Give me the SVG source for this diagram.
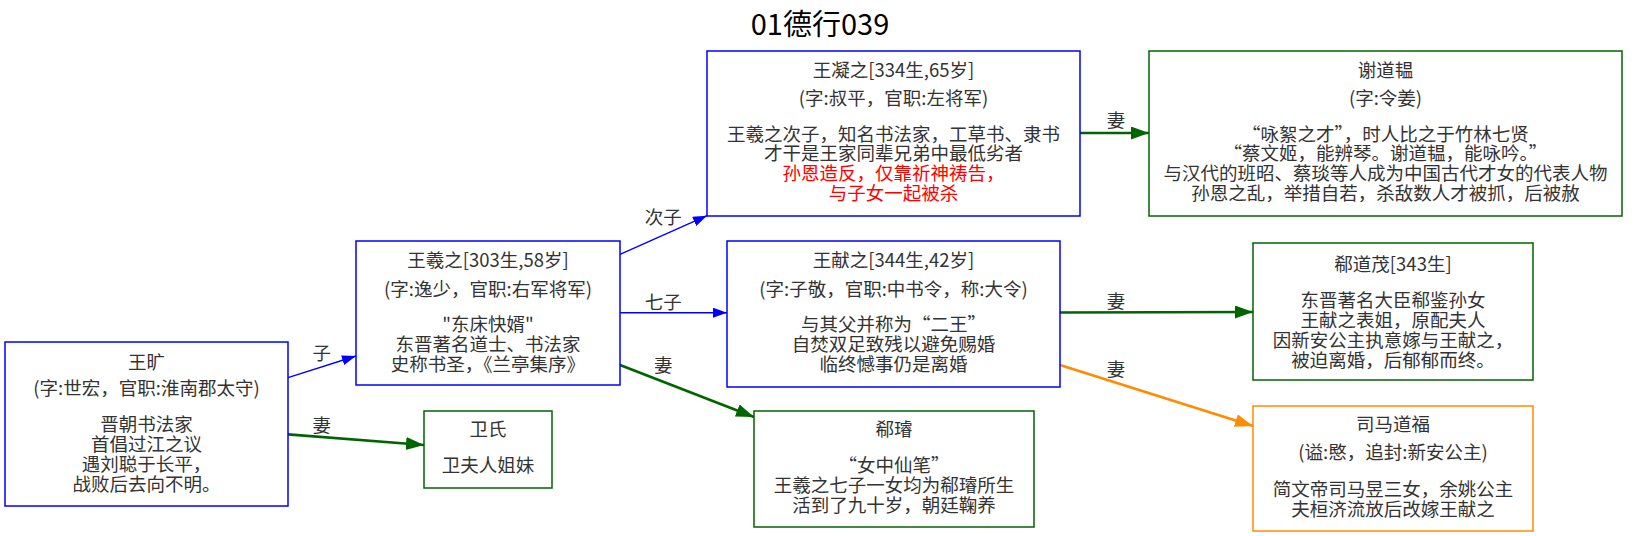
<svg xmlns="http://www.w3.org/2000/svg" width="1643" height="536" viewBox="0 0 1643 536">
<style>
  .t { font-family: "Noto Sans CJK SC", "Noto Sans", sans-serif; font-size: 18.5px; fill: #333; text-anchor: middle; }
  .red { fill: #ff0000; }
  .title { font-family: "Noto Sans CJK SC", "Noto Sans", sans-serif; font-size: 29px; fill: #000; text-anchor: middle; }
  .nb { fill: #fff; stroke: #0000ff; stroke-width: 1.5; }
  .ng { fill: #fff; stroke: #006400; stroke-width: 1.5; }
  .no { fill: #fff; stroke: #ff8c00; stroke-width: 1.5; }
  .eb { fill: none; stroke: #0000ff; stroke-width: 1.4; }
  .eg { fill: none; stroke: #006400; stroke-width: 2.7; }
  .eo { fill: none; stroke: #ff8c00; stroke-width: 2.7; }
  .lb { font-family: "Noto Sans CJK SC", "Noto Sans", sans-serif; font-size: 18.5px; fill: #333; text-anchor: middle; }
</style>
<defs>
  <marker id="ab" markerUnits="userSpaceOnUse" markerWidth="15" markerHeight="11" refX="14" refY="5" orient="auto">
    <path d="M0,0 L14,5 L0,10 z" fill="#0000ff"/>
  </marker>
  <marker id="ag" markerUnits="userSpaceOnUse" markerWidth="19" markerHeight="14" refX="18" refY="6.5" orient="auto">
    <path d="M0,0 L18,6.5 L0,13 z" fill="#006400"/>
  </marker>
  <marker id="ao" markerUnits="userSpaceOnUse" markerWidth="19" markerHeight="14" refX="18" refY="6.5" orient="auto">
    <path d="M0,0 L18,6.5 L0,13 z" fill="#ff8c00"/>
  </marker>
</defs>
<rect width="1643" height="536" fill="#fff"/>
<text class="title" x="820" y="35">01德行039</text>

<g id="edges">
  <path class="eb" d="M288,377.7 L356,356" marker-end="url(#ab)"/>
  <text class="lb" x="321.7" y="359.8">子</text>
  <path class="eg" d="M288,434.3 L424,445" marker-end="url(#ag)"/>
  <text class="lb" x="321.7" y="431.5">妻</text>
  <path class="eb" d="M620,254.3 L707,215.7" marker-end="url(#ab)"/>
  <text class="lb" x="663.3" y="224.2">次子</text>
  <path class="eb" d="M620,312.7 L727,312.7" marker-end="url(#ab)"/>
  <text class="lb" x="663.3" y="309.2">七子</text>
  <path class="eg" d="M620,365 L754,417" marker-end="url(#ag)"/>
  <text class="lb" x="663.3" y="371.5">妻</text>
  <path class="eg" d="M1080,133 L1149,133" marker-end="url(#ag)"/>
  <text class="lb" x="1116" y="127">妻</text>
  <path class="eg" d="M1060,312.5 L1253,312" marker-end="url(#ag)"/>
  <text class="lb" x="1116" y="307.5">妻</text>
  <path class="eo" d="M1060,365 L1253,426" marker-end="url(#ao)"/>
  <text class="lb" x="1116" y="375.5">妻</text>
</g>

<g id="n_wangkuang">
  <rect class="nb" x="5" y="342" width="283" height="164"/>
  <text class="t" x="146.5" y="368.7">王旷</text>
  <text class="t" x="146.5" y="394.8">(字:世宏，官职:淮南郡太守)</text>
  <text class="t" x="146.5" y="431">晋朝书法家</text>
  <text class="t" x="146.5" y="450.7">首倡过江之议</text>
  <text class="t" x="146.5" y="470.7">遇刘聪于长平，</text>
  <text class="t" x="146.5" y="490.7">战败后去向不明。</text>
</g>

<g id="n_wangxizhi">
  <rect class="nb" x="356" y="241" width="264" height="144"/>
  <text class="t" x="488" y="267.3">王羲之[303生,58岁]</text>
  <text class="t" x="488" y="295.7">(字:逸少，官职:右军将军)</text>
  <text class="t" x="488" y="331">"东床快婿"</text>
  <text class="t" x="488" y="350.7">东晋著名道士、书法家</text>
  <text class="t" x="488" y="370.7">史称书圣，《兰亭集序》</text>
</g>

<g id="n_wangningzhi">
  <rect class="nb" x="707" y="51" width="373" height="165"/>
  <text class="t" x="893.5" y="77.3">王凝之[334生,65岁]</text>
  <text class="t" x="893.5" y="105">(字:叔平，官职:左将军)</text>
  <text class="t" x="893.5" y="140.7">王羲之次子，知名书法家，工草书、隶书</text>
  <text class="t" x="893.5" y="160.3">才干是王家同辈兄弟中最低劣者</text>
  <text class="t red" x="893.5" y="180">孙恩造反，仅靠祈神祷告，</text>
  <text class="t red" x="893.5" y="199.7">与子女一起被杀</text>
</g>

<g id="n_xiedaoyun">
  <rect class="ng" x="1149" y="51" width="473" height="165"/>
  <text class="t" x="1385.5" y="77.3">谢道韫</text>
  <text class="t" x="1385.5" y="105">(字:令姜)</text>
  <text class="t" x="1385.5" y="140.7">“咏絮之才”，时人比之于竹林七贤</text>
  <text class="t" x="1385.5" y="160.3">“蔡文姬，能辨琴。谢道韫，能咏吟。”</text>
  <text class="t" x="1385.5" y="180">与汉代的班昭、蔡琰等人成为中国古代才女的代表人物</text>
  <text class="t" x="1385.5" y="199.7">孙恩之乱，举措自若，杀敌数人才被抓，后被赦</text>
</g>

<g id="n_wangxianzhi">
  <rect class="nb" x="727" y="241" width="333" height="146"/>
  <text class="t" x="893.5" y="267.3">王献之[344生,42岁]</text>
  <text class="t" x="893.5" y="295.7">(字:子敬，官职:中书令，称:大令)</text>
  <text class="t" x="893.5" y="330.7">与其父并称为“二王”</text>
  <text class="t" x="893.5" y="350.7">自焚双足致残以避免赐婚</text>
  <text class="t" x="893.5" y="370.7">临终憾事仍是离婚</text>
</g>

<g id="n_xidaomao">
  <rect class="ng" x="1253" y="243" width="280" height="137"/>
  <text class="t" x="1393" y="270.7">郗道茂[343生]</text>
  <text class="t" x="1393" y="307.3">东晋著名大臣郗鉴孙女</text>
  <text class="t" x="1393" y="327.3">王献之表姐，原配夫人</text>
  <text class="t" x="1393" y="347.3">因新安公主执意嫁与王献之，</text>
  <text class="t" x="1393" y="367.3">被迫离婚，后郁郁而终。</text>
</g>

<g id="n_weishi">
  <rect class="ng" x="424" y="411" width="128" height="77"/>
  <text class="t" x="488" y="435.7">卫氏</text>
  <text class="t" x="488" y="472.3">卫夫人姐妹</text>
</g>

<g id="n_xixuan">
  <rect class="ng" x="754" y="411" width="280" height="116"/>
  <text class="t" x="894" y="435.7">郗璿</text>
  <text class="t" x="894" y="472.3">“女中仙笔”</text>
  <text class="t" x="894" y="492.3">王羲之七子一女均为郗璿所生</text>
  <text class="t" x="894" y="512.3">活到了九十岁，朝廷鞠养</text>
</g>

<g id="n_simadaofu">
  <rect class="no" x="1253" y="406" width="280" height="125"/>
  <text class="t" x="1393" y="430.7">司马道福</text>
  <text class="t" x="1393" y="459">(谥:愍，追封:新安公主)</text>
  <text class="t" x="1393" y="495.7">简文帝司马昱三女，余姚公主</text>
  <text class="t" x="1393" y="515.7">夫桓济流放后改嫁王献之</text>
</g>
</svg>
